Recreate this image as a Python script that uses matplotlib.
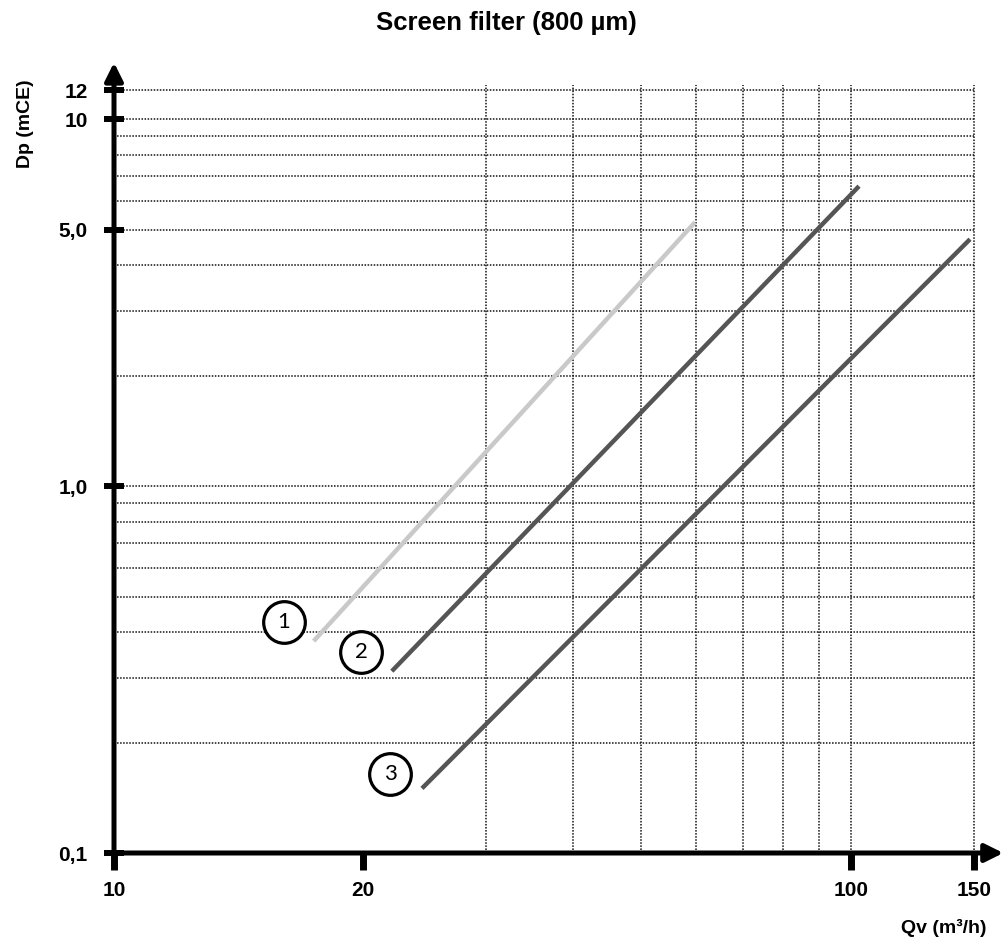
import matplotlib
matplotlib.use('Agg')
import matplotlib.pyplot as plt
from matplotlib import font_manager
from matplotlib.ticker import NullLocator

# curves (straight lines on log-log paper)
curve_names = ['1', '2', '3']
q_start = [17.0, 22.0, 24.3]
q_end = [59.8, 102.7, 148.1]
dp_start = [0.378, 0.313, 0.150]
dp_end = [5.24, 6.57, 4.71]
curve_colors = ['#c9c9c9', '#555555', '#555555']

# circled curve numbers
badge_q = [15.4, 19.9, 21.9]
badge_dp = [0.426, 0.353, 0.164]

# axes
X_MIN, X_MAX = 8.8, 155.6
Y_MIN, Y_MAX = 0.1, 13.2
x_ticks = [8.8, 20, 100, 150]
x_tick_labels = ['10', '20', '100', '150']
y_ticks = [0.1, 1, 5, 10, 12]
y_tick_labels = ['0,1', '1,0', '5,0', '10', '12']
x_grid = [30, 40, 50, 60, 70, 80, 90, 100, 150]
y_grid = [0.2, 0.3, 0.4, 0.5, 0.6, 0.7, 0.8, 0.9, 1, 2, 3, 4, 5, 6, 7, 8, 9, 10, 12]


def first_font(names):
  for name in names:
    try:
      font_manager.findfont(font_manager.FontProperties(family=name),
                            fallback_to_default=False)
      return name
    except ValueError:
      pass
  return 'DejaVu Sans'


narrow = first_font(['Liberation Sans Narrow', 'Arial Narrow'])
if narrow == 'DejaVu Sans':
  narrow = first_font(['Liberation Sans'])
  tick_size = 15
else:
  tick_size = 17
plain = first_font(['Liberation Sans', 'Arial'])
badge_font = first_font(['Lato', 'Open Sans'])

fig = plt.figure(figsize=(10.05, 9.43), dpi=100)
ax = fig.add_axes([114 / 1005, 90 / 943, 871 / 1005, 778 / 943])
ax.set_xscale('log')
ax.set_yscale('log')
ax.set_xlim(X_MIN, X_MAX)
ax.set_ylim(Y_MIN, Y_MAX)

# dotted grid
ax.hlines(y_grid, X_MIN, 150, colors='#111111', linestyles=(0, (1, 1)),
          linewidth=1.1, zorder=1)
ax.vlines(x_grid, Y_MIN, 12.4, colors='#111111', linestyles=(0, (1, 1)),
          linewidth=1.1, zorder=1)

for i in range(len(curve_names)):
  ax.plot([q_start[i], q_end[i]], [dp_start[i], dp_end[i]],
          color=curve_colors[i], linewidth=3.2, solid_capstyle='butt', zorder=3)
  ax.plot(badge_q[i], badge_dp[i], 'o', markersize=30, markerfacecolor='white',
          markeredgecolor='black', markeredgewidth=2.3, zorder=4)
  ax.text(badge_q[i], badge_dp[i], curve_names[i], ha='center', va='center',
          fontsize=16, family=[badge_font, 'DejaVu Sans'], zorder=5)

# axes drawn as thick arrows
for s in ax.spines.values():
  s.set_visible(False)
arrow = dict(arrowstyle='-|>,head_length=0.6,head_width=0.3', lw=3.6,
             color='black', shrinkA=0, shrinkB=0, mutation_scale=18)
ax.annotate('', xy=(0, 1.016), xytext=(0, 0), xycoords='axes fraction',
            arrowprops=arrow, annotation_clip=False)
ax.annotate('', xy=(1.021, 0), xytext=(0, 0), xycoords='axes fraction',
            arrowprops=arrow, annotation_clip=False)

ax.xaxis.set_minor_locator(NullLocator())
ax.yaxis.set_minor_locator(NullLocator())
ax.set_xticks(x_ticks)
ax.set_xticklabels(x_tick_labels)
ax.set_yticks(y_ticks)
ax.set_yticklabels(y_tick_labels)
ax.tick_params(axis='y', direction='inout', length=14, width=4.3, pad=12,
               labelsize=tick_size)
ax.tick_params(axis='x', direction='out', length=12, width=5, pad=8,
               labelsize=tick_size)
for lab in ax.get_xticklabels() + ax.get_yticklabels():
  lab.set_family(narrow)
  lab.set_fontweight('bold')

ax.set_xlabel('Qv (m³/h)', family=narrow, fontweight='bold', fontsize=14,
              ha='right', va='center')
ax.xaxis.set_label_coords(1.002, -0.096)
ax.set_ylabel('Dp (mCE)', family=narrow, fontweight='bold', fontsize=14,
              ha='center', va='center')
ax.yaxis.set_label_coords(-0.102, 0.938)

fig.suptitle('Screen filter (800 µm)', x=0.504, y=1 - 23 / 943, va='center',
             fontsize=18.5, fontweight='bold', family=plain)

fig.savefig('out.png', dpi=100)
